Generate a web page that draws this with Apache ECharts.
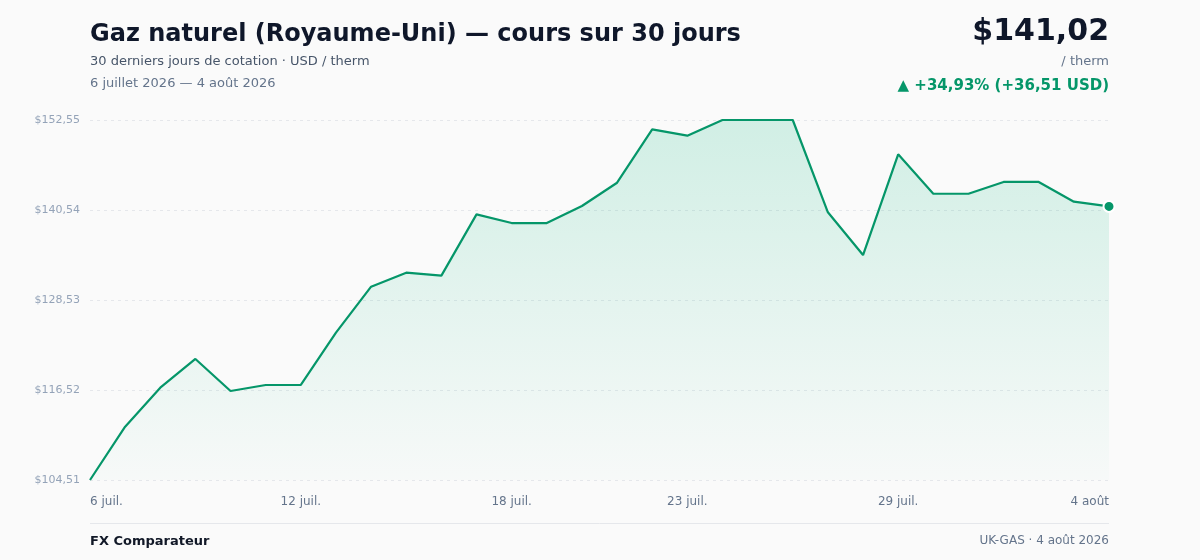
<!DOCTYPE html>
<html>
<head>
<meta charset="utf-8">
<title>Gaz naturel (Royaume-Uni)</title>
<script src="https://cdn.jsdelivr.net/npm/echarts@6/dist/echarts.min.js"></script>
<style>
  html, body { margin: 0; padding: 0; background: #fafafa; }
  #main { width: 1200px; height: 560px; }
</style>
</head>
<body>
<div id="main"></div>
<script>
// jours de cotation (6 juil. -> 4 août 2026)
var days = ['6 juil.', '7 juil.', '8 juil.', '9 juil.', '10 juil.', '11 juil.', '12 juil.', '13 juil.',
  '14 juil.', '15 juil.', '16 juil.', '17 juil.', '18 juil.', '19 juil.', '20 juil.', '21 juil.',
  '22 juil.', '23 juil.', '24 juil.', '25 juil.', '26 juil.', '27 juil.', '28 juil.', '29 juil.',
  '30 juil.', '31 juil.', '1 août', '2 août', '3 août', '4 août'];

// cours USD / therm
var prices = [104.51, 111.62, 116.83, 120.66, 116.39, 117.19, 117.19, 124.17, 130.31, 132.18,
  131.78, 139.96, 138.80, 138.80, 141.07, 144.18, 151.30, 150.46, 152.55, 152.55,
  152.55, 140.23, 134.53, 147.97, 142.71, 142.71, 144.28, 144.28, 141.65, 141.02];

// libellés affichés sur l'axe x
var shownDays = [0, 6, 12, 17, 23, 29];

// graduations de l'axe y
var yMin = 104.51, yMax = 152.55, yStep = 12.01;

var green = '#059669';
var lastIdx = prices.length - 1;

function fmt(v) {
  return v.toFixed(2).replace('.', ',');
}

var first = prices[0], last = prices[lastIdx];
var diff = last - first;
var pct = diff / first * 100;

var myChart = echarts.init(document.getElementById('main'));

var option = {
  backgroundColor: '#fafafa',
  animation: false,
  textStyle: { fontFamily: 'DejaVu Sans' },
  grid: { left: 90, right: 91, top: 120, bottom: 80, containLabel: false },
  xAxis: {
    type: 'category',
    boundaryGap: false,
    data: days,
    axisLine: { show: false },
    axisTick: { show: false },
    axisLabel: {
      color: '#64748b',
      fontSize: 12,
      margin: 16,
      alignMinLabel: 'left',
      alignMaxLabel: 'right',
      interval: function (idx) { return shownDays.indexOf(idx) >= 0; }
    },
    splitLine: { show: false }
  },
  yAxis: {
    type: 'value',
    min: yMin,
    max: yMax,
    interval: yStep,
    axisLine: { show: false },
    axisTick: { show: false },
    axisLabel: {
      color: '#94a3b8',
      fontSize: 11,
      margin: 10,
      formatter: function (v) { return '$' + fmt(v); }
    },
    splitLine: { lineStyle: { color: '#e5e7eb', type: [3, 4], width: 1 } }
  },
  series: [{
    type: 'line',
    data: prices,
    symbol: 'circle',
    showAllSymbol: true,
    symbolSize: function (v, p) { return p.dataIndex === lastIdx ? 11 : 0; },
    itemStyle: { color: green, borderColor: '#ffffff', borderWidth: 2 },
    lineStyle: { color: green, width: 2.2 },
    areaStyle: {
      color: new echarts.graphic.LinearGradient(0, 0, 0, 1, [
        { offset: 0, color: 'rgba(16,185,129,0.25)' },
        { offset: 1, color: 'rgba(16,185,129,0.02)' }
      ])
    },
    silent: true
  }],
  graphic: [
    { type: 'text', left: 90, top: 23, style: { text: 'Gaz naturel (Royaume-Uni) — cours sur 30 jours', fontSize: 24, fontWeight: 'bold', fill: '#0f172a', fontFamily: 'DejaVu Sans' } },
    { type: 'text', left: 90, top: 55, style: { text: '30 derniers jours de cotation · USD / therm', fontSize: 13, fill: '#475569', fontFamily: 'DejaVu Sans' } },
    { type: 'text', left: 90, top: 77, style: { text: '6 juillet 2026 — 4 août 2026', fontSize: 13, fill: '#64748b', fontFamily: 'DejaVu Sans' } },
    { type: 'text', right: 91, top: 17, style: { text: '$' + fmt(last), fontSize: 30, fontWeight: 'bold', fill: '#0f172a', fontFamily: 'DejaVu Sans' } },
    { type: 'text', right: 91, top: 55, style: { text: '/ therm', fontSize: 13, fill: '#64748b', fontFamily: 'DejaVu Sans' } },
    { type: 'text', right: 91, top: 79, style: { text: '▲ +' + fmt(pct) + '% (+' + fmt(diff) + ' USD)', fontSize: 15, fontWeight: 'bold', fill: green, fontFamily: 'DejaVu Sans' } },
    { type: 'line', shape: { x1: 90, y1: 523.5, x2: 1109, y2: 523.5 }, style: { stroke: '#e5e7eb', lineWidth: 1 } },
    { type: 'text', left: 90, top: 535, style: { text: 'FX Comparateur', fontSize: 13, fontWeight: 'bold', fill: '#111827', fontFamily: 'DejaVu Sans' } },
    { type: 'text', right: 91, top: 535, style: { text: 'UK-GAS · 4 août 2026', fontSize: 12, fill: '#64748b', fontFamily: 'DejaVu Sans' } }
  ]
};

myChart.setOption(option);
</script>
</body>
</html>
